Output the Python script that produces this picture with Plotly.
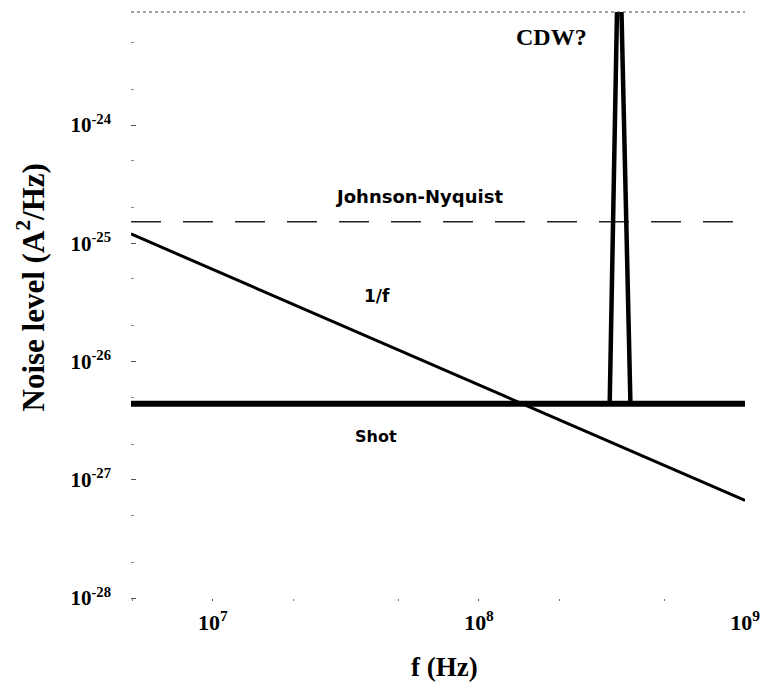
import plotly.graph_objects as go
import numpy as np

# Data
f_range = [4.92e6, 1.0e9]
oneoverf_noise = [1.2e-25, 6.7e-28]
shot_level = [4.4e-27, 4.4e-27]
johnson_level = [1.52e-25, 1.52e-25]
cdw_freq = [3.10e8, 3.36e8, 3.71e8]
cdw_noise = [4.4e-27, 7.5e-23, 4.4e-27]

y_tickvals = [1e-28, 1e-27, 1e-26, 1e-25, 1e-24]
y_ticktext = ["<b>10<sup>-28</sup></b>", "<b>10<sup>-27</sup></b>", "<b>10<sup>-26</sup></b>",
              "<b>10<sup>-25</sup></b>", "<b>10<sup>-24</sup></b>"]
x_tickvals = [1e7, 1e8, 1e9]
x_ticktext = ["<b>10<sup>7</sup></b>", "<b>10<sup>8</sup></b>", "<b>10<sup>9</sup></b>"]

serif = "Liberation Serif"
sans = "DejaVu Sans"

fig = go.Figure()
fig.add_trace(go.Scatter(x=f_range, y=johnson_level, mode="lines",
                         line=dict(color="#222", width=1.6, dash="30px,22px")))
fig.add_trace(go.Scatter(x=f_range, y=oneoverf_noise, mode="lines",
                         line=dict(color="black", width=3)))
fig.add_trace(go.Scatter(x=cdw_freq, y=cdw_noise, mode="lines",
                         line=dict(color="black", width=4.5)))
fig.add_trace(go.Scatter(x=f_range, y=shot_level, mode="lines",
                         line=dict(color="black", width=6)))

ann = [
    dict(x=8.271, y=-23.256, text="<b>CDW?</b>", font=dict(family=serif, size=24)),
    dict(x=7.775, y=-24.605, text="<b>Johnson-Nyquist</b>", font=dict(family=sans, size=18)),
    dict(x=7.617, y=-25.446, text="<b>1/f</b>", font=dict(family=sans, size=17)),
    dict(x=7.613, y=-26.638, text="<b>Shot</b>", font=dict(family=sans, size=16)),
]
for a in ann:
    a.update(xref="x", yref="y", showarrow=False)
    a["font"]["color"] = "black"
# axis titles placed as annotations (paper coords)
ann.append(dict(xref="paper", yref="paper", x=(31 - 131) / 614, y=(601 - 287.5) / 589,
                text="<b>Noise level (A<sup>2</sup>/Hz)</b>", textangle=-90, showarrow=False,
                xanchor="center", yanchor="middle",
                font=dict(family=serif, size=31, color="black")))
ann.append(dict(xref="paper", yref="paper", x=(444 - 131) / 614, y=(601 - 667) / 589,
                text="<b>f (Hz)</b>", showarrow=False, xanchor="center", yanchor="middle",
                font=dict(family=serif, size=27, color="black")))
fig.update_layout(annotations=ann)

fig.update_layout(
    width=762, height=685,
    margin=dict(l=131, r=17, t=12, b=84),
    plot_bgcolor="white", paper_bgcolor="white",
    showlegend=False,
    xaxis=dict(type="log", range=[6.692, 9.0], tickvals=x_tickvals, ticktext=x_ticktext,
               showgrid=False, zeroline=False, showline=False, automargin=False,
               ticks="inside", ticklen=2, tickcolor="#555", ticklabelstandoff=6,
               minor=dict(ticks="inside", ticklen=2, tickcolor="#777", dtick="D2"),
               tickfont=dict(family=serif, size=22, color="black")),
    yaxis=dict(type="log", range=[-28.025, -23.044], tickvals=y_tickvals, ticktext=y_ticktext,
               showgrid=False, zeroline=False, showline=False, automargin=False,
               ticks="inside", ticklen=5, tickcolor="#555", tickwidth=1, ticklabelstandoff=19,
               minor=dict(ticks="inside", ticklen=3, tickcolor="#888", dtick="D2"),
               tickfont=dict(family=serif, size=21, color="black")),
)
# top border line
fig.add_shape(type="line", xref="paper", yref="paper", x0=0, x1=1, y0=1, y1=1,
              line=dict(color="#444", width=1, dash="dot"))

fig.write_html("out.html")
